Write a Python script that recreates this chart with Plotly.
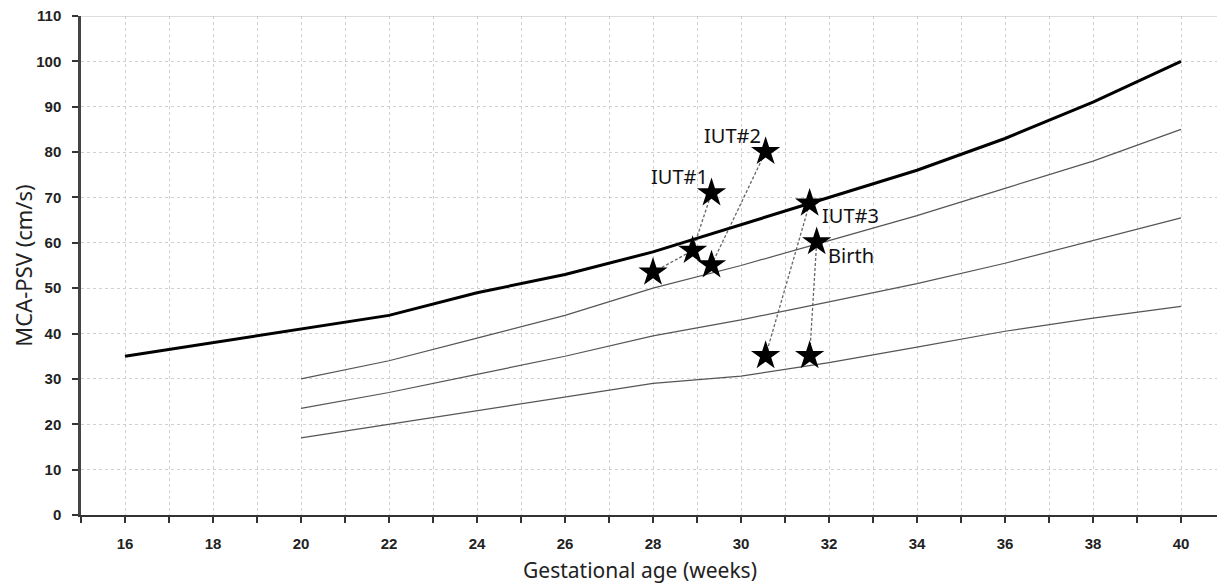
import plotly.graph_objects as go

# ---- data ----
weeks_main = [16, 18, 20, 22, 24, 26, 28, 30, 32, 34, 36, 38, 40]
psv_main = [35, 38, 41, 44, 49, 53, 58, 64, 70, 76, 83, 91, 100]

weeks_ref = [20, 22, 24, 26, 28, 30, 32, 34, 36, 38, 40]
psv_upper = [30, 34, 39, 44, 50, 55, 60.5, 66, 72, 78, 85]
psv_middle = [23.5, 27, 31, 35, 39.5, 43, 47, 51, 55.5, 60.5, 65.5]
psv_lower = [17, 20, 23, 26, 29, 30.6, 33.6, 37, 40.5, 43.4, 46]

star_ga = [28.0, 28.9, 29.33, 29.33, 30.56, 31.56, 31.72, 30.56, 31.56]
star_psv = [53.5, 58.3, 71.0, 55.1, 80.1, 68.7, 60.2, 35.1, 35.1]

# connector segments: (from index, to index) in star arrays
seg_from = [0, 1, 3, 7, 8]
seg_to = [1, 2, 4, 5, 6]

label_text = ["IUT#1", "IUT#2", "IUT#3", "Birth"]
label_ga = [28.61, 29.81, 32.49, 32.51]
label_psv = [74.7, 83.75, 66.1, 57.3]

x_ticks = [16, 18, 20, 22, 24, 26, 28, 30, 32, 34, 36, 38, 40]
y_ticks = [0, 10, 20, 30, 40, 50, 60, 70, 80, 90, 100, 110]

x_title = "Gestational age (weeks)"
y_title = "MCA-PSV (cm/s)"

fig = go.Figure()

# connectors
for a, b in zip(seg_from, seg_to):
    fig.add_trace(go.Scatter(
        x=[star_ga[a], star_ga[b]], y=[star_psv[a], star_psv[b]],
        mode="lines", line=dict(color="#666666", width=1.3, dash="3px,2px"),
        showlegend=False, hoverinfo="skip"))

for ys in (psv_upper, psv_middle, psv_lower):
    fig.add_trace(go.Scatter(x=weeks_ref, y=ys, mode="lines",
                             line=dict(color="#555555", width=1.2),
                             showlegend=False))

fig.add_trace(go.Scatter(x=weeks_main, y=psv_main, mode="lines",
                         line=dict(color="#000000", width=3),
                         showlegend=False))

fig.add_trace(go.Scatter(x=star_ga, y=star_psv, mode="markers",
                         marker=dict(symbol="star", size=22, color="#000000",
                                     line=dict(width=0)),
                         showlegend=False))

for t, x, y in zip(label_text, label_ga, label_psv):
    fig.add_annotation(x=x, y=y, text=t, showarrow=False,
                       font=dict(family="Noto Sans", size=20, color="#111111"))

# x axis title (placed as annotation to match reference centring)
fig.add_annotation(xref="paper", yref="paper", x=0.4887, y=-0.110,
                   xanchor="center", yanchor="middle", text=x_title,
                   showarrow=False,
                   font=dict(family="Noto Sans", size=21, color="#222222"))

# top border line
fig.add_shape(type="line", xref="paper", yref="y", x0=0, x1=1, y0=110, y1=110,
              line=dict(color="#bbbbbb", width=1.2))

tickfont = dict(family="Liberation Sans", size=15, color="#222222", weight="bold")

fig.update_xaxes(
    range=[15, 41], tickvals=x_ticks, ticks="outside", ticklen=6, tickwidth=2,
    tickcolor="#333333", showgrid=False, zeroline=False, automargin=False,
    showline=True, linewidth=2, linecolor="#333333",
    tickfont=tickfont, ticklabelstandoff=8, ticklabeloverflow="allow",
    minor=dict(dtick=1, tick0=15, ticks="outside", ticklen=6, tickwidth=2,
               tickcolor="#333333", showgrid=True, gridcolor="#d0d0d0",
               griddash="dot", gridwidth=1),
)
fig.update_yaxes(
    range=[0, 110], tickvals=y_ticks, ticks="outside", ticklen=6, tickwidth=2,
    tickcolor="#333333", showgrid=True, gridcolor="#d0d0d0", griddash="dot",
    gridwidth=1, zeroline=False, showline=True, linewidth=2.5, automargin=False,
    linecolor="#444444", tickfont=tickfont, ticklabelstandoff=8,
    ticklabeloverflow="allow",
    title=dict(text=y_title, standoff=6,
               font=dict(family="Noto Sans", size=22, color="#222222")),
)

fig.update_layout(
    width=1217, height=579,
    margin=dict(l=73, r=0, t=8, b=72),
    paper_bgcolor="white", plot_bgcolor="white",
    showlegend=False,
)

fig.write_html("out.html")
